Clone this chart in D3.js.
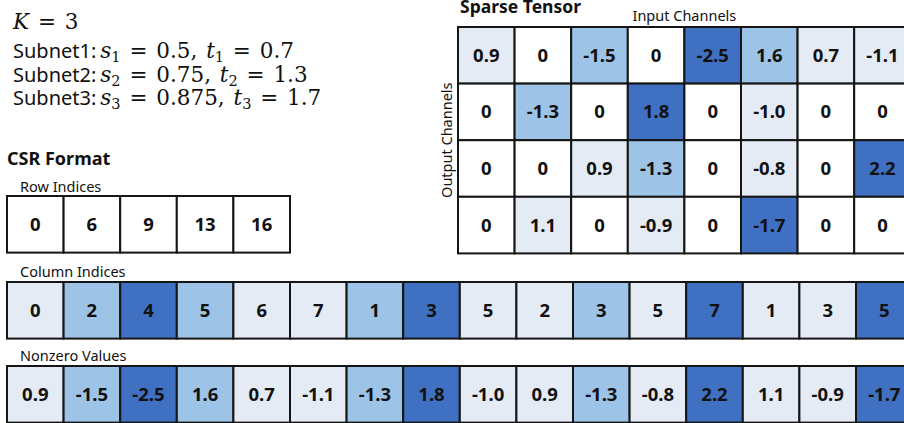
<!DOCTYPE html>
<html>
<head>
<meta charset="utf-8">
<script src="https://cdn.jsdelivr.net/npm/d3@7"></script>
<style>
  body { margin: 0; background: #fff; }
  svg { display: block; }
  .lbl { font-family: "Noto Sans", sans-serif; fill: #111; }
  .math { font-family: "DejaVu Serif", serif; fill: #111; word-spacing: 2px; }
  .cell text { font-family: "Noto Sans", sans-serif; font-weight: bold; font-size: 18.5px; fill: #111; }
</style>
</head>
<body>
<div id="chart"></div>
<script>
"use strict";

// Data
// ----

var K = 3;
var subnetS = ["0.5", "0.75", "0.875"];
var subnetT = [0.7, 1.3, 1.7];

var tensor = [
  [0.9, 0, -1.5, 0, -2.5, 1.6, 0.7, -1.1],
  [0, -1.3, 0, 1.8, 0, -1.0, 0, 0],
  [0, 0, 0.9, -1.3, 0, -0.8, 0, 2.2],
  [0, 1.1, 0, -0.9, 0, -1.7, 0, 0]
];

var rowIndices = [0, 6, 9, 13, 16];
var colIndices = [0, 2, 4, 5, 6, 7, 1, 3, 5, 2, 3, 5, 7, 1, 3, 5];
var nzValues = [0.9, -1.5, -2.5, 1.6, 0.7, -1.1, -1.3, 1.8,
                -1.0, 0.9, -1.3, -0.8, 2.2, 1.1, -0.9, -1.7];


// Setup
// -----

var W = 904, H = 423, cs = 56.6;

var svg = d3.select("#chart").append("svg")
    .attr("width", W)
    .attr("height", H);

// subnet level: how many thresholds the magnitude reaches
var level = function(v) {
  return d3.bisectRight(subnetT, Math.abs(v) + 1e-9);
};
var color = d3.scaleOrdinal()
    .domain([0, 1, 2, 3])
    .range(["#ffffff", "#e4ebf5", "#9dc3e6", "#4070c2"]);

var fmt = function(v) {
  return v === 0 ? "0" : d3.format(".1f")(v).replace("\u2212", "-");
};


// Draw a strip of cells

function strip(g, data, x0, y0, text, fill) {
  var x = d3.scaleBand().domain(d3.range(data.length))
      .range([x0, x0 + cs * data.length]);
  var c = g.selectAll("g.cell").data(data).join("g")
      .attr("class", "cell")
      .attr("transform", function(d, i) { return "translate(" + x(i) + "," + y0 + ")"; });
  c.append("rect")
      .attr("width", x.bandwidth())
      .attr("height", cs)
      .attr("fill", function(d, i) { return fill(d, i); })
      .attr("stroke", "#151515")
      .attr("stroke-width", 2);
  c.append("text")
      .attr("x", x.bandwidth() / 2)
      .attr("y", cs / 2 + 6.5)
      .attr("text-anchor", "middle")
      .text(text);
}


// Formula text
// ------------

var mathSize = 21.5;
var t0 = svg.append("text").attr("class", "math")
    .attr("x", 13).attr("y", 29).style("font-size", mathSize + "px");
t0.append("tspan").style("font-style", "italic").text("K");
t0.append("tspan").text(" = " + K);

subnetS.forEach(function(s, i) {
  var t = svg.append("text")
      .attr("x", 13).attr("y", 58 + i * 23.5);
  t.append("tspan").attr("class", "lbl").style("font-size", "20px")
      .text("Subnet" + (i + 1) + ":");
  var m = t.append("tspan").attr("class", "math").style("font-size", mathSize + "px");
  m.append("tspan").attr("dx", 4).style("font-style", "italic").text("s");
  m.append("tspan").attr("dy", 4).style("font-size", "14.5px").text(i + 1);
  m.append("tspan").attr("dy", -4).text(" = " + s + ", ");
  m.append("tspan").style("font-style", "italic").text("t");
  m.append("tspan").attr("dy", 4).style("font-size", "14.5px").text(i + 1);
  m.append("tspan").attr("dy", -4).text(" = " + subnetT[i]);
});


// Sparse tensor
// -------------

var tx = 458, ty = 27;

svg.append("text").attr("class", "lbl")
    .attr("x", 460).attr("y", 13)
    .style("font-size", "17.5px").style("font-weight", "bold")
    .text("Sparse Tensor");

svg.append("text").attr("class", "lbl")
    .attr("x", tx + 4 * cs).attr("y", 21)
    .attr("text-anchor", "middle")
    .style("font-size", "14.5px")
    .text("Input Channels");

svg.append("text").attr("class", "lbl")
    .attr("transform", "translate(452," + (ty + 2 * cs) + ") rotate(-90)")
    .attr("text-anchor", "middle")
    .style("font-size", "14.5px")
    .text("Output Channels");

var yRow = d3.scaleBand().domain(d3.range(tensor.length))
    .range([ty, ty + cs * tensor.length]);

tensor.forEach(function(row, r) {
  strip(svg.append("g"), row, tx, yRow(r), fmt,
      function(d) { return color(level(d)); });
});


// CSR format
// ----------

svg.append("text").attr("class", "lbl")
    .attr("x", 7).attr("y", 165)
    .style("font-size", "18px").style("font-weight", "bold")
    .text("CSR Format");

svg.append("text").attr("class", "lbl")
    .attr("x", 20).attr("y", 192)
    .style("font-size", "14.5px")
    .text("Row Indices");

strip(svg.append("g"), rowIndices, 7, 196, String,
    function() { return "#ffffff"; });

svg.append("text").attr("class", "lbl")
    .attr("x", 20).attr("y", 277)
    .style("font-size", "14.5px")
    .text("Column Indices");

strip(svg.append("g"), colIndices, 7, 282, String,
    function(d, i) { return color(level(nzValues[i])); });

svg.append("text").attr("class", "lbl")
    .attr("x", 20).attr("y", 361)
    .style("font-size", "14.5px")
    .text("Nonzero Values");

strip(svg.append("g"), nzValues, 7, 366, fmt,
    function(d) { return color(level(d)); });

</script>
</body>
</html>
